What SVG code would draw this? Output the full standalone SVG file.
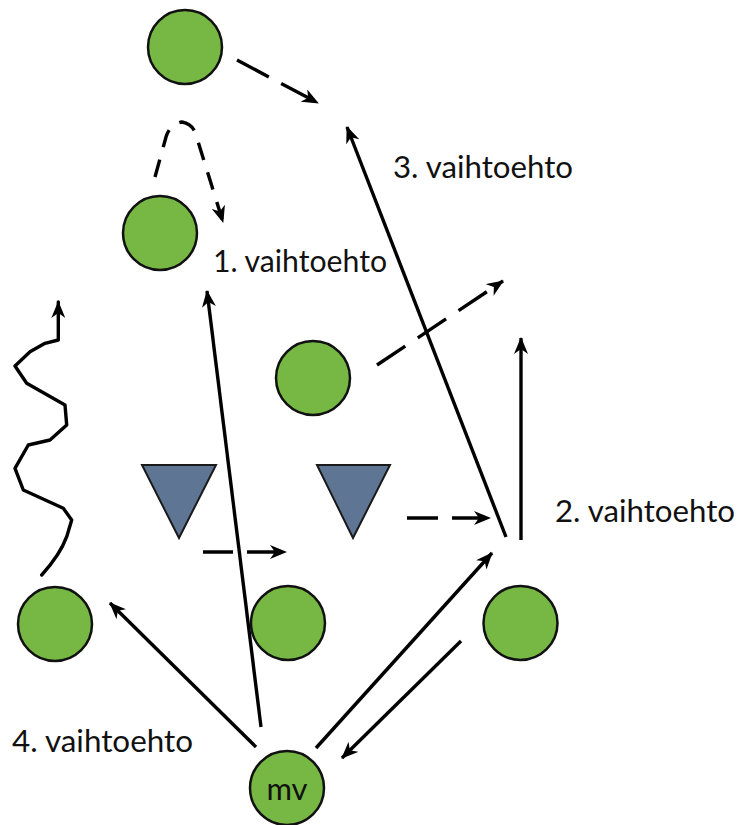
<svg xmlns="http://www.w3.org/2000/svg" width="741" height="825" viewBox="0 0 741 825">
  <style>
    .node { fill: #76b843; stroke: #111; stroke-width: 2.5; }
    .tri { fill: #5e7593; stroke: #1a1a1a; stroke-width: 2; stroke-linejoin: miter; }
    .edge { fill: none; stroke: #000; stroke-width: 3.4; }
    .dash { stroke-dasharray: 34 15; }
    .lbl { font-family: "Lato", "Open Sans", "Liberation Sans", sans-serif; font-size: 31px; fill: #111; }
  </style>
  <defs>
    <marker id="ah" viewBox="0 0 17 14" refX="16" refY="7" markerWidth="17" markerHeight="14" markerUnits="userSpaceOnUse" orient="auto">
      <path d="M0,0 L17,7 L0,14 L5,7 Z" fill="#000"/>
    </marker>
  </defs>
  <rect width="741" height="825" fill="#fff"/>

  <g id="connectors">
    <path class="edge" d="M261,727 L207,291" marker-end="url(#ah)"/>
    <path class="edge" d="M506,537 L347,127" marker-end="url(#ah)"/>
    <path class="edge" d="M521,540 L521,338" marker-end="url(#ah)"/>
    <path class="edge dash" d="M377,365 L503,281" marker-end="url(#ah)"/>
    <path class="edge" d="M256,747 L110,603" marker-end="url(#ah)"/>
    <path class="edge" d="M316,748 L492,553" marker-end="url(#ah)"/>
    <path class="edge" d="M461,641 L342,758" marker-end="url(#ah)"/>
    <path class="edge" d="M203,552 L286,552" stroke-dasharray="30 14" marker-end="url(#ah)"/>
    <path class="edge" d="M407,518 L490,518" stroke-dasharray="31 14" marker-end="url(#ah)"/>
    <path class="edge" d="M237,60 L318,103" stroke-dasharray="36 14" marker-end="url(#ah)"/>
    <path class="edge" d="M155,177 L166,137 Q170,124 182,122 Q193,124 196,135 L223,222" stroke-dasharray="18 13" marker-end="url(#ah)"/>
    <path class="edge" stroke-linejoin="round" stroke-linecap="round" d="M41.7,575 Q60,555 66.7,536.7 L71.7,520 L63.3,508.3 L23.3,490 L15,468.3 L28.3,445 L50,440 L66.7,425 L65,405 L26.7,383.3 L15,366 L30,351.7 L45,343.3 L58.3,340 L58.3,302" marker-end="url(#ah)"/>
  </g>

  <g id="n-top"><circle class="node" cx="185" cy="47" r="37"/></g>
  <g id="n-second"><circle class="node" cx="160" cy="233" r="37"/></g>
  <g id="n-middle"><circle class="node" cx="313" cy="378" r="37"/></g>
  <g id="n-bottom-left"><circle class="node" cx="55" cy="624" r="37"/></g>
  <g id="n-bottom-middle"><circle class="node" cx="288" cy="623" r="37"/></g>
  <g id="n-bottom-right"><circle class="node" cx="520.5" cy="623" r="37"/></g>
  <g id="n-mv">
    <circle class="node" cx="287" cy="788" r="37"/>
    <text class="lbl" x="287" y="800" text-anchor="middle" font-size="30">mv</text>
  </g>
  <g id="tri-left"><polygon class="tri" points="142,465 216,465 179,538"/></g>
  <g id="tri-right"><polygon class="tri" points="317,465 390,465 353,538"/></g>

  <g id="labels">
    <text class="lbl" x="213" y="272" textLength="174" lengthAdjust="spacingAndGlyphs">1. vaihtoehto</text>
    <text class="lbl" x="393" y="178" textLength="180" lengthAdjust="spacingAndGlyphs">3. vaihtoehto</text>
    <text class="lbl" x="555" y="522" textLength="180" lengthAdjust="spacingAndGlyphs">2. vaihtoehto</text>
    <text class="lbl" x="12" y="752" textLength="181" lengthAdjust="spacingAndGlyphs">4. vaihtoehto</text>
  </g>
</svg>
